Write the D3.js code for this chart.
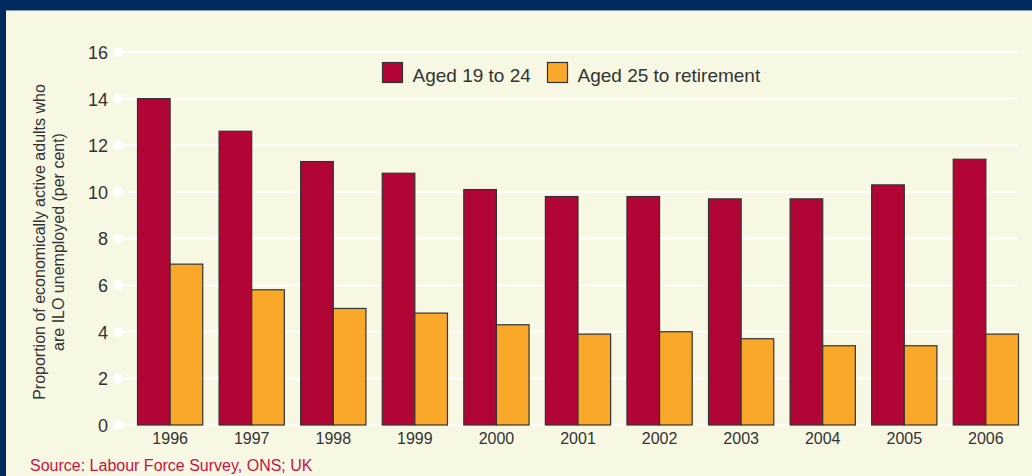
<!DOCTYPE html>
<html><head><meta charset="utf-8">
<script src="https://cdn.jsdelivr.net/npm/d3@7"></script>
<style>
html,body{margin:0;padding:0;background:#f7f8e4;}
svg{display:block;font-family:"Liberation Sans",Arial,sans-serif;}
</style></head>
<body>
<svg id="chart" width="1032" height="476"></svg>
<script>
const years = ["1996","1997","1998","1999","2000","2001","2002","2003","2004","2005","2006"];
const aged19to24 = [14.0,12.6,11.3,10.8,10.1,9.8,9.8,9.7,9.7,10.3,11.4];
const aged25toRetirement = [6.9,5.8,5.0,4.8,4.3,3.9,4.0,3.7,3.4,3.4,3.9];
const seriesNames = ["Aged 19 to 24","Aged 25 to retirement"];
const yTicks = [0,2,4,6,8,10,12,14,16];
const yTitle = ["Proportion of economically active adults who","are ILO unemployed (per cent)"];
const sourceText = "Source: Labour Force Survey, ONS; UK";

const colors = ["#b00535","#f9a82a"];
const svg = d3.select("#chart");

// frame
svg.append("rect").attr("x",0).attr("y",0).attr("width",1032).attr("height",476).attr("fill","#f7f8e4");
svg.append("rect").attr("x",0).attr("y",0).attr("width",1032).attr("height",10).attr("fill","#002b5e");
svg.append("rect").attr("x",0).attr("y",10).attr("width",1032).attr("height",1).attr("fill","#8a9bb0");
svg.append("rect").attr("x",0).attr("y",0).attr("width",6).attr("height",476).attr("fill","#002b5e");

const y = d3.scaleLinear().domain([0,16]).range([425,52]);
const x = d3.scaleBand().domain(years).range([137.5,1018.5]).paddingInner(0.2).paddingOuter(0);
const xs = d3.scaleBand().domain(seriesNames).range([0,x.bandwidth()]).padding(0);

// gridlines + dots
const grid = svg.append("g");
grid.selectAll("line").data(yTicks).join("line")
  .attr("x1",118).attr("x2",1017)
  .attr("y1",d=>y(d)).attr("y2",d=>y(d))
  .attr("stroke","#ffffff").attr("stroke-width",2);
grid.selectAll("circle").data(yTicks).join("circle")
  .attr("cx",118).attr("cy",d=>y(d)).attr("r",5).attr("fill","#ffffff");

// y axis labels
const yAxis = d3.axisLeft(y).tickValues(yTicks).tickSize(0).tickPadding(0).tickFormat(d3.format("d"));
const gy = svg.append("g").attr("transform","translate(108,0)").call(yAxis);
gy.select(".domain").remove();
gy.selectAll("text").attr("font-size",18).attr("fill","#333").attr("font-family","Liberation Sans, Arial, sans-serif").attr("dy","0.36em");

// x axis labels
const xAxis = d3.axisBottom(x).tickSize(0).tickPadding(0);
const gx = svg.append("g").attr("transform","translate(0,429)").call(xAxis);
gx.select(".domain").remove();
gx.selectAll("text").attr("font-size",16).attr("fill","#333").attr("font-family","Liberation Sans, Arial, sans-serif").attr("dy","0.95em");

// bars
const rows = years.map((yr,i)=>({year:yr, vals:[aged19to24[i],aged25toRetirement[i]]}));
const groups = svg.append("g").selectAll("g").data(rows).join("g")
  .attr("transform",d=>`translate(${x(d.year)},0)`);
groups.selectAll("rect").data(d=>d.vals.map((v,j)=>({v,j}))).join("rect")
  .attr("x",d=>xs(seriesNames[d.j]))
  .attr("width",xs.bandwidth())
  .attr("y",d=>y(d.v))
  .attr("height",d=>y(0)-y(d.v))
  .attr("fill",d=>colors[d.j])
  .attr("stroke","#333").attr("stroke-width",1.2);

// legend
const legendPos = [382.5,547.5];
const lg = svg.append("g");
seriesNames.forEach((n,i)=>{
  lg.append("rect").attr("x",legendPos[i]).attr("y",62.5).attr("width",20).attr("height",20)
    .attr("fill",colors[i]).attr("stroke","#333").attr("stroke-width",1.2);
  lg.append("text").attr("x",legendPos[i]+30).attr("y",82).attr("font-size",19).attr("fill","#333").text(n);
});

// y title
const yt = svg.append("text").attr("transform","translate(45,242) rotate(-90)")
  .attr("text-anchor","middle").attr("font-size",16).attr("fill","#333");
yt.append("tspan").attr("x",0).attr("dy",0).text(yTitle[0]);
yt.append("tspan").attr("x",0).attr("dy",19).text(yTitle[1]);

// source
svg.append("text").attr("x",30).attr("y",471).attr("font-size",16).attr("fill","#c8123f").text(sourceText);
</script>
</body></html>
